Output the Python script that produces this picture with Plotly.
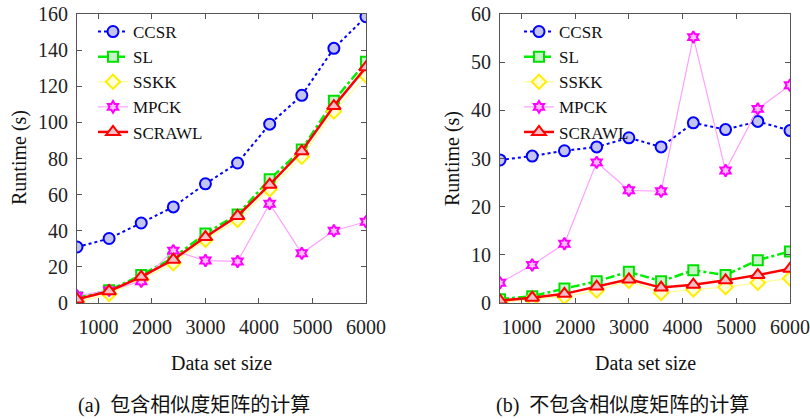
import plotly.graph_objects as go

x_sizes = [600, 1200, 1800, 2400, 3000, 3600, 4200, 4800, 5400, 6000]
x_ticks = [1000, 2000, 3000, 4000, 5000, 6000]

# (a) including similarity-matrix computation
a_ccsr = [31, 35.7, 44.3, 53.2, 66, 77.5, 99, 115, 141, 158.5]
a_sl = [3, 7, 15.5, 25, 38.5, 49, 68.5, 85, 112, 133.5]
a_sskk = [0.5, 5, 13, 22, 35, 46, 63, 81, 106, 126]
a_mpck = [4, 7, 12, 29, 23.5, 23, 55, 27.5, 40, 45]
a_scrawl = [2, 6.5, 14.5, 24, 36.5, 48.2, 65.5, 84, 109, 130.5]

# (b) excluding similarity-matrix computation
b_ccsr = [29.7, 30.5, 31.6, 32.4, 34.3, 32.4, 37.4, 36.0, 37.7, 35.8]
b_sl = [0.8, 1.4, 3.0, 4.5, 6.5, 4.5, 6.8, 5.8, 8.9, 10.7]
b_sskk = [0.1, 0.8, 1.3, 2.6, 4.6, 2.1, 2.8, 3.3, 4.2, 5.1]
b_mpck = [4.2, 7.9, 12.3, 29.2, 23.4, 23.2, 55.2, 27.5, 40.3, 45.2]
b_scrawl = [0.5, 1.1, 1.9, 3.4, 4.9, 3.2, 3.8, 4.7, 5.8, 7.1]

names = ["CCSR", "SL", "SSKK", "MPCK", "SCRAWL"]
styles = {
    "CCSR": dict(line=dict(color="#0000ff", width=2, dash="dot"),
                 marker=dict(symbol="circle", size=11, color="#c4c4f0", line=dict(color="#0000ff", width=2))),
    "SL": dict(line=dict(color="#00ee00", width=2.5, dash="dashdot"),
               marker=dict(symbol="square", size=10, color="#c8f4c8", line=dict(color="#00e000", width=2))),
    "SSKK": dict(line=dict(color="#ffff90", width=1.2),
                 marker=dict(symbol="diamond", size=11, color="#ffffd8", line=dict(color="#ffee00", width=2))),
    "MPCK": dict(line=dict(color="#ffa0ff", width=1.2),
                 marker=dict(symbol="hexagram", size=9, color="#ffc0ff", line=dict(color="#ff00ff", width=2))),
    "SCRAWL": dict(line=dict(color="#ff0000", width=2.5),
                   marker=dict(symbol="triangle-up", size=12, color="#f4c0c8", line=dict(color="#ff0000", width=2))),
}

FONT = "Liberation Serif"
CJK = "Liberation Serif, Noto Sans CJK SC"
W, H = 810, 419
ML, MR, MT, MB = 77, 20, 14, 116
PW, PH = W - ML - MR, H - MT - MB


def px(x):
    return (x - ML) / PW


def py(y):
    return (H - MB - y) / PH


fig = go.Figure()
series_a = dict(CCSR=a_ccsr, SL=a_sl, SSKK=a_sskk, MPCK=a_mpck, SCRAWL=a_scrawl)
series_b = dict(CCSR=b_ccsr, SL=b_sl, SSKK=b_sskk, MPCK=b_mpck, SCRAWL=b_scrawl)

for n in names:
    fig.add_trace(go.Scatter(x=x_sizes, y=series_a[n], name=n, mode="lines+markers",
                             xaxis="x", yaxis="y", legend="legend", **styles[n]))
for n in names:
    fig.add_trace(go.Scatter(x=x_sizes, y=series_b[n], name=n, mode="lines+markers",
                             xaxis="x2", yaxis="y2", legend="legend2", **styles[n]))

axis_common = dict(showline=True, linecolor="#555555", linewidth=1, mirror="ticks",
                   ticks="inside", ticklen=5, tickcolor="#555555", showgrid=False, zeroline=False,
                   automargin=False,
                   tickfont=dict(family=FONT, size=20, color="#222222"))

fig.update_layout(
    width=W, height=H,
    margin=dict(l=ML, r=MR, t=MT, b=MB, autoexpand=False),
    paper_bgcolor="white", plot_bgcolor="white",
    xaxis=dict(domain=[0, px(366)], range=[600, 6000], tickvals=x_ticks, anchor="y",
               ticklabelstandoff=6, **axis_common),
    yaxis=dict(domain=[0, 1], range=[0, 160], dtick=20, anchor="x", ticklabelstandoff=4, **axis_common),
    xaxis2=dict(domain=[px(500), 1], range=[600, 6000], tickvals=x_ticks, anchor="y2",
                ticklabelstandoff=6, **axis_common),
    yaxis2=dict(domain=[0, 1], range=[0, 60], dtick=10, anchor="x2", ticklabelstandoff=4, **axis_common),
    legend=dict(x=px(93), y=py(14), xanchor="left", yanchor="top", bgcolor="rgba(0,0,0,0)",
                font=dict(family=FONT, size=17, color="#111111"), tracegroupgap=0),
    legend2=dict(x=px(519), y=py(14), xanchor="left", yanchor="top", bgcolor="rgba(0,0,0,0)",
                 font=dict(family=FONT, size=17, color="#111111"), tracegroupgap=0),
    showlegend=True,
)

anns = [
    dict(text="Data set size", x=px((77 + 366) / 2), y=py(363), font=dict(family=FONT, size=20, color="#111")),
    dict(text="Data set size", x=px((500 + 790) / 2), y=py(363), font=dict(family=FONT, size=20, color="#111")),
    dict(text="Runtime (s)", x=px(19), y=py(158), textangle=-90, font=dict(family=FONT, size=20, color="#111")),
    dict(text="Runtime (s)", x=px(452), y=py(158), textangle=-90, font=dict(family=FONT, size=20, color="#111")),
    dict(text="(a)  包含相似度矩阵的计算", x=px(194), y=py(405), font=dict(family=CJK, size=20, color="#111")),
    dict(text="(b)  不包含相似度矩阵的计算", x=px(622), y=py(405), font=dict(family=CJK, size=20, color="#111")),
]
for a in anns:
    a.update(xref="paper", yref="paper", showarrow=False, xanchor="center", yanchor="middle")
    fig.add_annotation(**a)

fig.write_html("out.html")
